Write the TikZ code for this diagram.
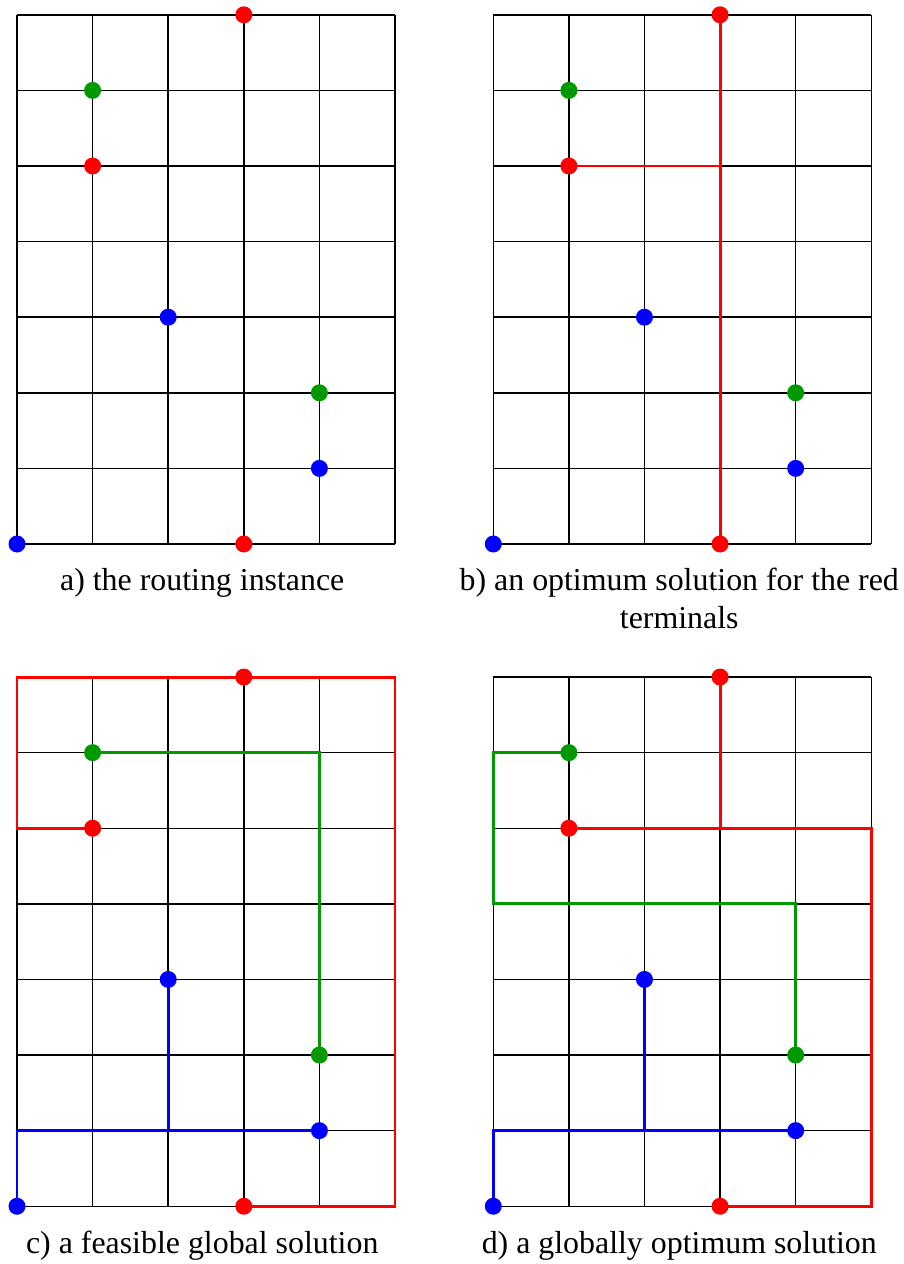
\documentclass[tikz,border=0pt]{standalone}
\usepackage{fontspec}
\setmainfont{Liberation Serif}
\definecolor{termred}{RGB}{255,0,0}
\definecolor{termgreen}{RGB}{0,153,0}
\definecolor{termblue}{RGB}{0,0,255}
\tikzset{
  gridline/.style={line width=0.55pt, black},
  wire/.style={line width=1.1pt},
  terminal/.style={circle, inner sep=0pt, minimum size=0.225cm},
  caption/.style={font=\fontsize{12}{14.4}\selectfont, anchor=base, align=center, inner sep=0pt}
}
\begin{document}
\begin{tikzpicture}
    \useasboundingbox (-0.225,-9.524) rectangle (11.72,7.196);

    % Griglie 5x7 dei quattro pannelli, con un punto nominato per ogni incrocio
    \foreach \p/\sx/\sy in {a/0/0, b/6.3/0, c/0/-8.76, d/6.3/-8.76} {
        \begin{scope}[shift={(\sx,\sy)}]
            \draw[gridline] (0,0) grid (5,7);
            \foreach \x in {0,...,5}
                \foreach \y in {0,...,7}
                    \coordinate (\p-\x-\y) at (\x,\y);
        \end{scope}
    }

    % Pannello b: soluzione per i terminali rossi
    \draw[wire, termred] (b-3-7) -- (b-3-0);
    \draw[wire, termred] (b-1-5) -- (b-3-5);

    % Pannello c: soluzione ammissibile
    \draw[wire, termred] (c-3-7) -- (c-0-7) -- (c-0-5) -- (c-1-5);
    \draw[wire, termred] (c-3-7) -- (c-5-7) -- (c-5-0) -- (c-3-0);
    \draw[wire, termgreen] (c-1-6) -- (c-4-6) -- (c-4-2);
    \draw[wire, termblue] (c-0-0) -- (c-0-1) -- (c-4-1);
    \draw[wire, termblue] (c-2-3) -- (c-2-1);

    % Pannello d: soluzione ottima globale
    \draw[wire, termred] (d-3-7) -- (d-3-5);
    \draw[wire, termred] (d-1-5) -- (d-5-5) -- (d-5-0) -- (d-3-0);
    \draw[wire, termgreen] (d-1-6) -- (d-0-6) -- (d-0-4) -- (d-4-4) -- (d-4-2);
    \draw[wire, termblue] (d-0-0) -- (d-0-1) -- (d-4-1);
    \draw[wire, termblue] (d-2-3) -- (d-2-1);

    % Terminali, uguali in tutti i pannelli
    \foreach \p in {a,b,c,d} {
        \node[terminal, fill=termred] (\p-red1) at (\p-3-7) {};
        \node[terminal, fill=termred] (\p-red2) at (\p-1-5) {};
        \node[terminal, fill=termred] (\p-red3) at (\p-3-0) {};
        \node[terminal, fill=termgreen] (\p-green1) at (\p-1-6) {};
        \node[terminal, fill=termgreen] (\p-green2) at (\p-4-2) {};
        \node[terminal, fill=termblue] (\p-blue1) at (\p-2-3) {};
        \node[terminal, fill=termblue] (\p-blue2) at (\p-4-1) {};
        \node[terminal, fill=termblue] (\p-blue3) at (\p-0-0) {};
    }

    % Didascalie
    \node[caption] (cap-a) at (2.45,-0.62) {a) the routing instance};
    \node[caption] (cap-b) at (8.76,-1.12) {b) an optimum solution for the red\\terminals};
    \node[caption] (cap-c) at (2.45,-9.38) {c) a feasible global solution};
    \node[caption] (cap-d) at (8.76,-9.38) {d) a globally optimum solution};
\end{tikzpicture}
\end{document}
